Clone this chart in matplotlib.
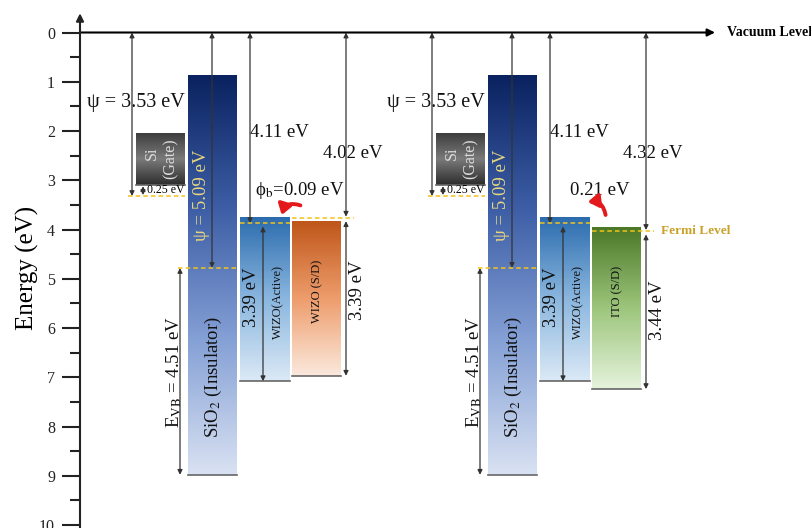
import numpy as np
import matplotlib
matplotlib.use('Agg')
from matplotlib import pyplot as plt
from matplotlib.colors import LinearSegmentedColormap
from matplotlib.patches import FancyArrowPatch

plt.rcParams['font.family'] = ['Liberation Serif', 'DejaVu Serif']
plt.rcParams['mathtext.fontset'] = 'stix'

# energy levels below vacuum (eV)
si_gate = [2.05, 3.10]
si_fermi = 3.32
sio2 = [0.86, 8.98]
sio2_level = 4.78
wizo_act = [3.76, 7.08]
wizo_act_fermi = 3.87
wizo_sd = [3.84, 6.97]
wizo_sd_fermi = 3.77
ito = [3.96, 7.24]
ito_fermi = 4.04

yticks = list(range(11))
psi_gate = 'ψ = 3.53 eV'
psi_sio2 = 'ψ = 5.09 eV'
evb = r'E$_{\rm VB}$ = 4.51 eV'
chi_act = '4.11 eV'
gap_act = '3.39 eV'
wf_sd = ['4.02 eV', '4.32 eV']
gap_sd = ['3.39 eV', '3.44 eV']
barrier = [r'ϕ$_{\rm b}$=0.09 eV', '0.21 eV']
sd_names = ['WIZO (S/D)', 'ITO (S/D)']

fig = plt.figure(figsize=(8.11, 5.28), dpi=100)
ax = fig.add_axes([80 / 811, 0, 731 / 811, 1])
XL, YL = (80, 811), (10.06, -0.66)

for s in ax.spines.values():
    s.set_visible(False)
ax.set_xticks([])
ax.set_yticks(yticks)
ax.set_yticks(np.arange(0, 10.01, 0.5), minor=True)
ax.tick_params(axis='y', which='major', direction='out', length=13, width=1.5,
               labelsize=11.5, pad=5, colors='#222')
ax.tick_params(axis='y', which='minor', direction='out', length=7, width=1.5, colors='#222')

ARROW = '#333333'
DASH = '#f2c21b'


def bar(x0, x1, top, bot, colors):
    cm = LinearSegmentedColormap.from_list('g', colors)
    grad = np.linspace(0, 1, 256).reshape(-1, 1)
    ax.imshow(grad, cmap=cm, extent=(x0, x1, bot, top), origin='upper',
              aspect='auto', zorder=2, interpolation='bicubic')
    ax.plot([x0, x1], [bot, bot], color='#666666', lw=1.2, zorder=3)


def arrow(x, e0, e1, style='<|-|>'):
    ax.annotate('', xy=(x, e1), xytext=(x, e0),
                arrowprops=dict(arrowstyle=style, color=ARROW, lw=0.9,
                                mutation_scale=7, shrinkA=0, shrinkB=0),
                zorder=4)


def dash(x0, x1, e):
    ax.plot([x0, x1], [e, e], color=DASH, lw=1.1, ls=(0, (3, 2)), zorder=5)


def label(x, e, s, size=13.5, rot=0, color='#111111', box=False, **kw):
    bb = dict(fc='white', ec='none', pad=1.5) if box else None
    ax.text(x, e, s, fontsize=size, rotation=rot, color=color, ha='center',
            va='center', bbox=bb, zorder=3.5 if box else 6, **kw)


sd_cols = [['#bf561a', '#ee9d6c', '#fbe9de'], ['#4a7827', '#9dc67c', '#e6f3dd']]
sd_bands = [wizo_sd, ito]
sd_fermi = [wizo_sd_fermi, ito_fermi]

for k, dx in enumerate([0, 300]):
    # gate
    bar(136 + dx, 185 + dx, si_gate[0], si_gate[1], ['#3e3e3e', '#7a7a7a', '#2c2c2c'])
    label(152 + dx, 2.45, 'Si', size=11.5, rot=90, color='#dcdcdc')
    label(171 + dx, 2.56, '(Gate)', size=11.5, rot=90, color='#dcdcdc')
    dash(128 + dx, 185 + dx, si_fermi)
    arrow(132 + dx, 0, si_fermi)
    label(136 + dx, 1.43, psi_gate, size=14.5, box=True)
    arrow(143 + dx, si_gate[1] + 0.02, si_fermi - 0.02)
    ax.text(147 + dx, 3.2, '0.25 eV', fontsize=8.5, ha='left', va='center', zorder=6)

    # insulator
    bar(188 + dx, 237 + dx, sio2[0], sio2[1],
        ['#0a225f', '#3d5ea6', '#86a1d6', '#d9e2f2'])
    dash(178 + dx, 237 + dx, sio2_level)
    arrow(212 + dx, 0, sio2_level)
    label(202 + dx, 3.3, psi_sio2, size=13.5, rot=90, color='#e9d77e')
    arrow(180 + dx, sio2_level, sio2[1])
    label(174 + dx, 6.89, evb, size=13.5, rot=90, box=True)
    label(213 + dx, 7.0, r'SiO$_2$ (Insulator)', size=13.5, rot=90)

    # active layer
    bar(240 + dx, 290 + dx, wizo_act[0], wizo_act[1], ['#2c6cae', '#8bb7df', '#dbe9f6'])
    dash(240 + dx, 290 + dx, wizo_act_fermi)
    arrow(250 + dx, 0, wizo_act_fermi)
    label(279 + dx, 2.04, chi_act, box=True)
    arrow(263 + dx, wizo_act[1], wizo_act_fermi + 0.07)
    label(251 + dx, 5.37, gap_act, rot=90)
    label(278 + dx, 5.47, 'WIZO(Active)', size=9, rot=90)

    # source / drain
    band = sd_bands[k]
    bar(292 + dx, 341 + dx, band[0], band[1], sd_cols[k])
    ef = sd_fermi[k]
    dash(292 + dx, 354 + dx, ef)
    arrow(346 + dx, 0, ef - 0.03)
    arrow(346 + dx, ef + 0.06, band[1])
    label(353 + dx, 2.45, wf_sd[k], box=True)
    label(317 + dx, 5.25, sd_names[k], size=9, rot=90)
    label(358 + dx, 5.23 + 0.4 * k, gap_sd[k], rot=90)
    label(300 + dx, 3.2, barrier[k])

# red arrows for the barrier
red = dict(arrowstyle='-|>,head_length=6,head_width=4', color='#e3191c', lw=2.8, zorder=7)
ax.add_patch(FancyArrowPatch((303, 3.53), (281, 3.76), connectionstyle='arc3,rad=0.6', **red))
ax.add_patch(FancyArrowPatch((606, 3.76), (585, 3.45), connectionstyle='arc3,rad=0.55', **red))

# vacuum level and energy axis
ax.annotate('', xy=(715, 0), xytext=(80, 0),
            arrowprops=dict(arrowstyle='-|>', color='black', lw=1.5, mutation_scale=11,
                            shrinkA=0, shrinkB=0), zorder=6)
ax.text(727, 0, 'Vacuum Level', fontsize=10, fontweight='bold', ha='left', va='center')
ax.annotate('', xy=(80, -0.39), xytext=(80, 10.3),
            arrowprops=dict(arrowstyle='-|>', color='#222', lw=1.5, mutation_scale=11,
                            shrinkA=0, shrinkB=0), annotation_clip=False, zorder=6)
ax.text(661, ito_fermi, 'Fermi Level', fontsize=9.5, fontweight='bold', color='#c9a128',
        ha='left', va='center')
fig.text(27 / 811, 1 - 268 / 528, 'Energy (eV)', fontsize=18, rotation=90,
         ha='center', va='center')

ax.set_xlim(*XL)
ax.set_ylim(*YL)
fig.savefig('out.png', dpi=100)
